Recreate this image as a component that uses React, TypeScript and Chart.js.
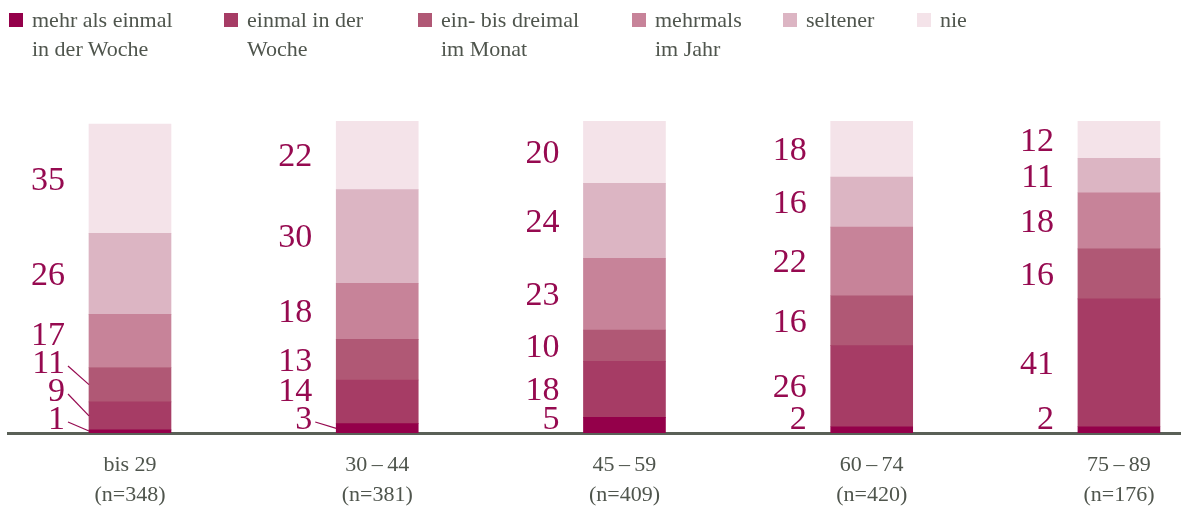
import React, { useEffect, useRef } from "react";
import { Chart, registerables } from "chart.js";

Chart.register(...registerables);

// ---- data ----
const categories = ["bis 29", "30\u2009–\u200944", "45\u2009–\u200959", "60\u2009–\u200974", "75\u2009–\u200989"];
const sampleSizes = [348, 381, 409, 420, 176];

const seriesLabels = [
  "mehr als einmal in der Woche",
  "einmal in der Woche",
  "ein- bis dreimal im Monat",
  "mehrmals im Jahr",
  "seltener",
  "nie",
];
const legendLines = [
  ["mehr als einmal", "in der Woche"],
  ["einmal in der", "Woche"],
  ["ein- bis dreimal", "im Monat"],
  ["mehrmals", "im Jahr"],
  ["seltener"],
  ["nie"],
];

const mehrAlsEinmalWoche = [1, 3, 5, 2, 2];
const einmalWoche = [9, 14, 18, 26, 41];
const einBisDreimalMonat = [11, 13, 10, 16, 16];
const mehrmalsJahr = [17, 18, 23, 22, 18];
const seltener = [26, 30, 24, 16, 11];
const nie = [35, 22, 20, 18, 12];

const seriesValues = [mehrAlsEinmalWoche, einmalWoche, einBisDreimalMonat, mehrmalsJahr, seltener, nie];

// ---- styles ----
const colors = ["#94004a", "#a63c65", "#b05875", "#c78399", "#dcb5c3", "#f4e3e9"];
const LABEL_COLOR = "#960a50";
const TEXT_COLOR = "#4f554d";
const AXIS_COLOR = "#5a6057";
const FONT = "'Liberation Serif', 'Times New Roman', serif";
const legendLeft = [9, 224, 418, 632, 783, 917];
// [category, series] label pairs that get a leader line
const leaderLines = [
  [0, 0],
  [0, 1],
  [0, 2],
  [1, 0],
];

const segLabelPlugin = {
  id: "segLabels",
  afterDatasetsDraw(chart: any) {
    const ctx = chart.ctx;
    const area = chart.chartArea;
    const GAP = 28;
    const maxY = area.bottom - 15;
    ctx.save();
    ctx.font = `34px ${FONT}`;
    ctx.fillStyle = LABEL_COLOR;
    ctx.strokeStyle = LABEL_COLOR;
    ctx.lineWidth = 1.2;
    ctx.textAlign = "right";
    ctx.textBaseline = "middle";
    for (let i = 0; i < categories.length; i++) {
      let prev = Infinity;
      for (let d = 0; d < chart.data.datasets.length; d++) {
        const el = chart.getDatasetMeta(d).data[i];
        if (!el) continue;
        const p = el.getProps(["x", "y", "base", "width"], true);
        const center = (p.y + p.base) / 2;
        const ly = Math.min(center, maxY, prev - GAP);
        prev = ly;
        const left = p.x - p.width / 2;
        const right = left - 24;
        const v = chart.data.datasets[d].data[i].y;
        ctx.fillText(String(v), right, ly + 2);
        if (leaderLines.some((l) => l[0] === i && l[1] === d)) {
          ctx.beginPath();
          ctx.moveTo(right + 3, ly + 4);
          ctx.lineTo(left, Math.min(center, p.base - 2));
          ctx.stroke();
        }
      }
    }
    ctx.restore();
  },
};

export default function App() {
  const canvasRef = useRef<HTMLCanvasElement | null>(null);

  useEffect(() => {
    if (!canvasRef.current) return;
    Chart.defaults.font.family = FONT;
    const chart = new Chart(canvasRef.current, {
      type: "bar",
      data: {
        datasets: seriesValues.map((vals, s) => ({
          label: seriesLabels[s],
          data: vals.map((v, i) => ({ x: i, y: v })),
          backgroundColor: colors[s],
          borderWidth: 0,
          barThickness: 82,
        })),
      },
      options: {
        responsive: true,
        maintainAspectRatio: false,
        animation: false,
        layout: { padding: { top: 121, left: 8, right: 0, bottom: 0 } },
        plugins: {
          legend: { display: false },
          tooltip: { enabled: false },
        },
        scales: {
          x: {
            type: "linear",
            stacked: true,
            offset: false,
            min: -0.4934,
            max: 4.251,
            afterBuildTicks: (scale: any) => {
              scale.ticks = categories.map((_, i) => ({ value: i }));
            },
            afterFit: (scale: any) => {
              scale.height = 74;
            },
            grid: { display: false, drawTicks: false, offset: false },
            border: { display: true, color: AXIS_COLOR, width: 3 },
            ticks: {
              color: TEXT_COLOR,
              padding: 17,
              maxRotation: 0,
              autoSkip: false,
              font: { family: FONT, size: 22, lineHeight: 30 / 22 },
              callback: (value: any) => {
                const i = Math.round(Number(value));
                return [categories[i], `(n=${sampleSizes[i]})`];
              },
            },
          },
          y: {
            stacked: true,
            display: false,
            min: 0,
            max: 100,
          },
        },
      },
      plugins: [segLabelPlugin],
    });
    return () => chart.destroy();
  }, []);

  return (
    <div
      style={{
        position: "fixed",
        left: 0,
        top: 0,
        width: "100vw",
        height: "100vh",
        background: "#ffffff",
        overflow: "hidden",
      }}
    >
      <canvas ref={canvasRef} style={{ position: "absolute", left: 0, top: 0 }} />
      {legendLines.map((lines, s) => (
        <div
          key={s}
          style={{
            position: "absolute",
            left: legendLeft[s],
            top: 5,
            display: "flex",
            alignItems: "flex-start",
          }}
        >
          <div
            style={{
              width: 14,
              height: 14,
              marginTop: 8,
              background: colors[s],
              flex: "0 0 auto",
            }}
          />
          <div
            style={{
              marginLeft: 9,
              fontFamily: FONT,
              fontSize: 22,
              lineHeight: "29px",
              color: TEXT_COLOR,
              whiteSpace: "nowrap",
            }}
          >
            {lines.map((t, k) => (
              <div key={k}>{t}</div>
            ))}
          </div>
        </div>
      ))}
    </div>
  );
}
